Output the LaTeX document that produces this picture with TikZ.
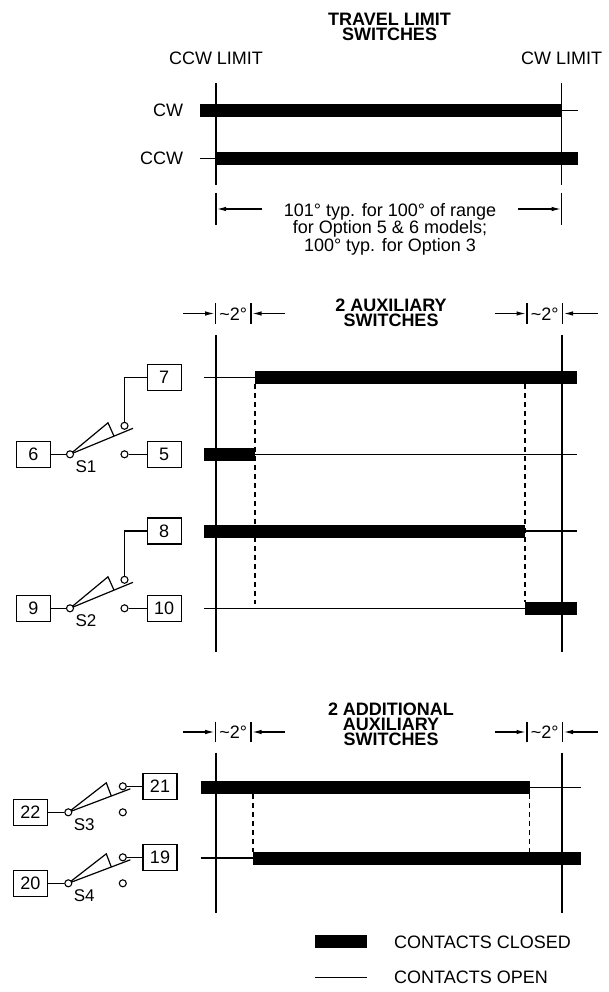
\documentclass[tikz,border=0pt]{standalone}
\usepackage{fontspec}
\setmainfont{Liberation Sans}
\usetikzlibrary{calc,arrows.meta}
\begin{document}
\begin{tikzpicture}[x=1pt,y=-1pt,
  wire/.style={line width=1.2pt},
  limitline/.style={line width=1.5pt},
  barline/.style={line width=13pt},
  dashline/.style={line width=1.2pt, dash pattern=on 5pt off 4pt},
  ticklne/.style={line width=1.2pt},
  dimarrow/.style={line width=1.1pt, -{Latex[length=9pt,width=4.5pt]}},
  termbox/.style={draw, line width=1.1pt, minimum width=34pt, minimum height=26pt, inner sep=0pt, font=\fontsize{18}{18}\selectfont},
  contact/.style={circle, draw, fill=white, line width=1.1pt, minimum size=7pt, inner sep=0pt},
  lbl/.style={inner sep=0pt, anchor=base, font=\fontsize{18}{18}\selectfont},
  ttl/.style={inner sep=0pt, anchor=north, align=center},
  swlbl/.style={inner sep=0pt, anchor=base, font=\fontsize{17}{17}\selectfont}
]
\fill[white] (0,0) rectangle (608,992);
\useasboundingbox (0,0) rectangle (608,992);

% ================= TRAVEL LIMIT SWITCHES =================
\node[ttl, font=\bfseries\fontsize{18}{15}\selectfont] (t1) at (389.5,12.6) {TRAVEL LIMIT\\SWITCHES};
\node[lbl] (ccwlim) at (216,65) {CCW LIMIT};
\node[lbl] (cwlim) at (561.7,65) {CW LIMIT};
\node[lbl, anchor=base east] (cwrow) at (183.3,117) {CW};
\node[lbl, anchor=base east] (ccwrow) at (183.3,165) {CCW};

\draw[limitline] (216,83) -- (216,185);
\draw[limitline] (561.7,83) -- (561.7,185);

\draw[barline] (200,110.5) -- (561.7,110.5);
\draw[wire] (561.7,110.5) -- (577.7,110.5);
\draw[wire] (200,158.5) -- (216,158.5);
\draw[barline] (216,158.5) -- (577.7,158.5);

\draw[ticklne] (216,193) -- (216,225);
\draw[ticklne] (561.7,193) -- (561.7,225);
\node[ttl, font=\fontsize{18}{16}\selectfont] (dtxt) at (390,202.8) {101° typ. for 100° of range\\for Option 5 \& 6 models;\\100° typ. for Option 3};
\coordinate (dla) at (262,209);
\coordinate (dlb) at (217,209);
\coordinate (dra) at (518,209);
\coordinate (drb) at (560.7,209);
\draw[dimarrow] (dla) -- (dlb);
\draw[dimarrow] (dra) -- (drb);

% ================= 2 AUXILIARY SWITCHES =================
\node[ttl, font=\bfseries\fontsize{18}{15}\selectfont] (t2) at (391,298.9) {2 AUXILIARY\\SWITCHES};

% ~2 deg markers
\foreach \yy/\nm in {313.5/a, 732/b}{
  \draw[ticklne] (215.7,\yy-10.5) -- (215.7,\yy+10);
  \draw[ticklne] (251,\yy-10.5) -- (251,\yy+10);
  \node[lbl] (ml\nm) at (233.3,\yy+6.5) {\textasciitilde 2°};
  \coordinate (mla\nm) at (183,\yy);
  \coordinate (mlb\nm) at (214.2,\yy);
  \coordinate (mlc\nm) at (285,\yy);
  \coordinate (mld\nm) at (252.5,\yy);
  \draw[dimarrow] (mla\nm) -- (mlb\nm);
  \draw[dimarrow] (mlc\nm) -- (mld\nm);
  \draw[ticklne] (527,\yy-10.5) -- (527,\yy+10);
  \draw[ticklne] (562.5,\yy-10.5) -- (562.5,\yy+10);
  \node[lbl] (mr\nm) at (544.7,\yy+6.5) {\textasciitilde 2°};
  \coordinate (mra\nm) at (494.5,\yy);
  \coordinate (mrb\nm) at (525.5,\yy);
  \coordinate (mrc\nm) at (597.5,\yy);
  \coordinate (mrd\nm) at (564,\yy);
  \draw[dimarrow] (mra\nm) -- (mrb\nm);
  \draw[dimarrow] (mrc\nm) -- (mrd\nm);
}

\draw[limitline] (216,335) -- (216,652);
\draw[limitline] (562,335) -- (562,652);

% row 7
\draw[wire] (204,377.7) -- (255,377.7);
\draw[barline] (255,377.7) -- (577,377.7);
% row 5
\draw[barline] (204,454.3) -- (255,454.3);
\draw[wire] (255,454.3) -- (577,454.3);
% row 8
\draw[barline] (204,531) -- (525,531);
\draw[wire] (525,531) -- (577,531);
% row 10
\draw[wire] (204,608.3) -- (525,608.3);
\draw[barline] (525,608.3) -- (577,608.3);

\draw[dashline] (255,384.2) -- (255,604);
\draw[dashline] (525,384.2) -- (525,602);

% switch S1
\node[termbox] (b6) at (33.3,454.3) {6};
\node[termbox] (b5) at (164.2,454.3) {5};
\node[termbox] (b7) at (164.2,377.7) {7};
\coordinate (p1) at (70,454.3);
\draw[wire] (p1) -- ($(p1)+(63,-26)$);
\draw[wire] (p1) -- ($(p1)+(38,-31.5)$) -- ($(p1)+(44,-18.2)$);
\node[contact] (c1p) at (p1) {};
\node[contact] (c1u) at ($(p1)+(54.5,-28.5)$) {};
\node[contact] (c1l) at ($(p1)+(54.5,0)$) {};
\draw[wire] (b6) -- (c1p);
\draw[wire] (c1l) -- (b5);
\draw[wire] (c1u) |- (b7);
\node[swlbl] (s1) at (86,472.8) {S1};

% switch S2
\node[termbox] (b9) at (33.3,608.3) {9};
\node[termbox] (b10) at (164.2,608.3) {10};
\node[termbox] (b8) at (164.2,531) {8};
\coordinate (p2) at (70,608.3);
\draw[wire] (p2) -- ($(p2)+(63,-26)$);
\draw[wire] (p2) -- ($(p2)+(38,-31.5)$) -- ($(p2)+(44,-18.2)$);
\node[contact] (c2p) at (p2) {};
\node[contact] (c2u) at ($(p2)+(54.5,-28.5)$) {};
\node[contact] (c2l) at ($(p2)+(54.5,0)$) {};
\draw[wire] (b9) -- (c2p);
\draw[wire] (c2l) -- (b10);
\draw[wire] (c2u) |- (b8);
\node[swlbl] (s2) at (86,626.8) {S2};

% ================= 2 ADDITIONAL AUXILIARY SWITCHES =================
\node[ttl, font=\bfseries\fontsize{18}{15}\selectfont] (t3) at (391,702.8) {2 ADDITIONAL\\AUXILIARY\\SWITCHES};

\draw[limitline] (216,752.7) -- (216,913.3);
\draw[limitline] (562,752.7) -- (562,913.3);

% row 21
\draw[barline] (200.5,787.5) -- (530,787.5);
\draw[wire] (530,787.5) -- (580.7,787.5);
% row 19
\draw[wire] (200.5,858) -- (253,858);
\draw[barline] (253,858) -- (580.7,858);

\draw[dashline] (253,794) -- (253,851.5);
\draw[dashline] (529.5,794) -- (529.5,851.5);

% switch S3
\node[termbox] (b22) at (30.5,812.3) {22};
\node[termbox] (b21) at (160,786.3) {21};
\coordinate (p3) at (68.3,812.3);
\draw[wire] (p3) -- ($(p3)+(62,-23.5)$);
\draw[wire] (p3) -- ($(p3)+(38,-29.5)$) -- ($(p3)+(43,-16.3)$);
\node[contact] (c3p) at (p3) {};
\node[contact] (c3u) at ($(p3)+(54.5,-26)$) {};
\node[contact] (c3l) at ($(p3)+(54.5,0)$) {};
\draw[wire] (b22) -- (c3p);
\draw[wire] (c3u) -- (b21);
\node[swlbl] (s3) at (84.3,830.5) {S3};

% switch S4
\node[termbox] (b20) at (30.5,883.3) {20};
\node[termbox] (b19) at (160,857.3) {19};
\coordinate (p4) at (68.3,883.3);
\draw[wire] (p4) -- ($(p4)+(62,-23.5)$);
\draw[wire] (p4) -- ($(p4)+(38,-29.5)$) -- ($(p4)+(43,-16.3)$);
\node[contact] (c4p) at (p4) {};
\node[contact] (c4u) at ($(p4)+(54.5,-26)$) {};
\node[contact] (c4l) at ($(p4)+(54.5,0)$) {};
\draw[wire] (b20) -- (c4p);
\draw[wire] (c4u) -- (b19);
\node[swlbl] (s4) at (84.3,901) {S4};

% ================= LEGEND =================
\fill (315,935) rectangle (367.3,947.7);
\node[lbl, anchor=base west] (lgc) at (394,948) {CONTACTS CLOSED};
\draw[wire] (315,977.7) -- (367.3,977.7);
\node[lbl, anchor=base west] (lgo) at (394,983) {CONTACTS OPEN};
\end{tikzpicture}
\end{document}
